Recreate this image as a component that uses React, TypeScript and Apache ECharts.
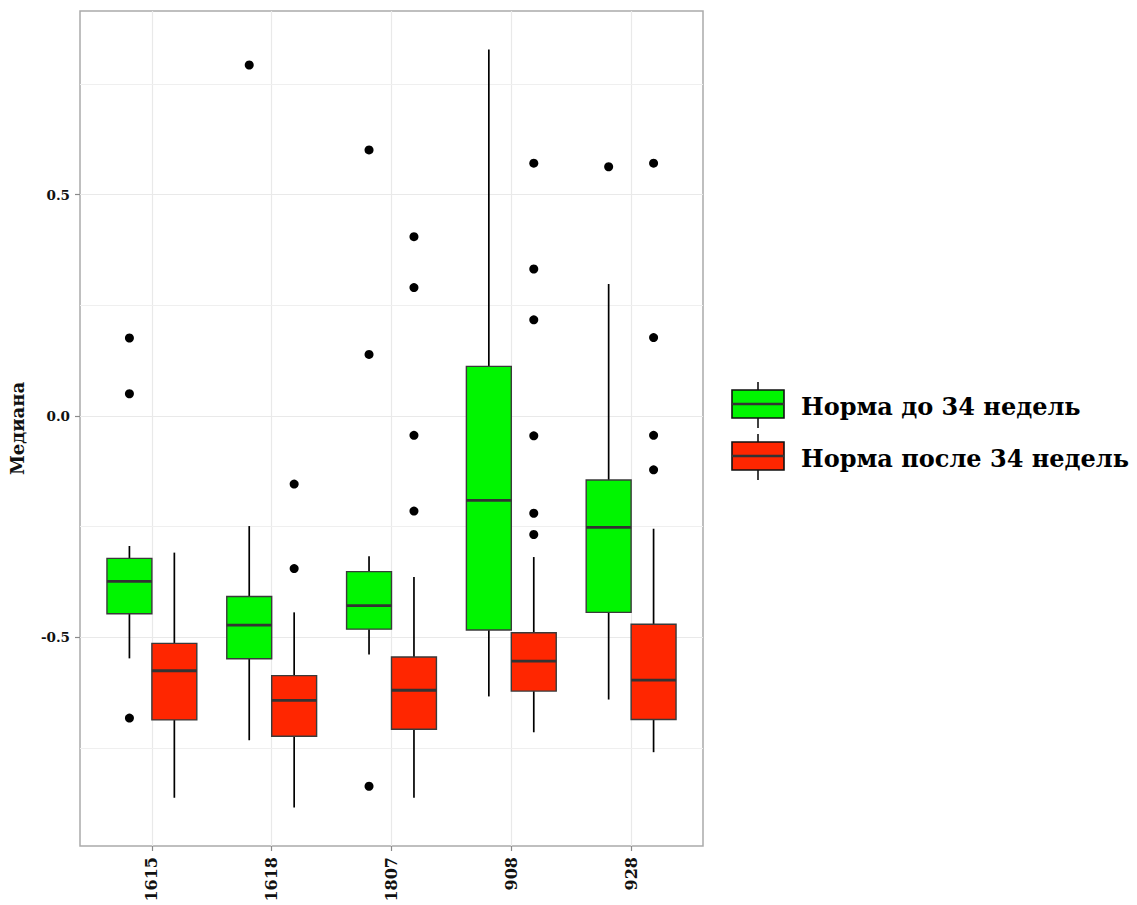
import React, { useEffect, useRef } from "react";
import * as echarts from "echarts";

// ---- data ----
const categories = ["1615", "1618", "1807", "908", "928"];
const seriesNames = ["Норма до 34 недель", "Норма после 34 недель"];

// [lower whisker, Q1, median, Q3, upper whisker] per category
const beforeStats = [
  [-0.548, -0.447, -0.374, -0.322, -0.294],
  [-0.733, -0.549, -0.473, -0.408, -0.249],
  [-0.539, -0.482, -0.429, -0.352, -0.317],
  [-0.634, -0.484, -0.191, 0.112, 0.828],
  [-0.641, -0.444, -0.252, -0.145, 0.298],
];
const afterStats = [
  [-0.863, -0.687, -0.576, -0.514, -0.309],
  [-0.885, -0.724, -0.643, -0.587, -0.444],
  [-0.863, -0.708, -0.62, -0.545, -0.364],
  [-0.715, -0.622, -0.554, -0.49, -0.319],
  [-0.76, -0.686, -0.597, -0.471, -0.255],
];
// outliers per category
const beforeOutliers = [
  [0.176, 0.05, -0.683],
  [0.793],
  [0.601, 0.139, -0.837],
  [],
  [0.563],
];
const afterOutliers = [
  [],
  [-0.154, -0.345],
  [0.405, 0.29, -0.044, -0.215],
  [0.571, 0.332, 0.217, -0.045, -0.22, -0.268],
  [0.571, 0.177, -0.044, -0.122],
];
const yMajorTicks = [-0.5, 0, 0.5];
const yMinorBreaks = [-0.75, -0.25, 0.25, 0.75];

// ---- style ----
const GREEN = "#00f500";
const RED = "#ff2600";
const FONT = "'DejaVu Serif', 'Liberation Serif', serif";
const DODGE = 0.1875; // half of dodge width
const HALF_BOX = 0.1875;

function boxRows(stats: number[][]) {
  return stats.map((s, i) => [i + 1, ...s]);
}

function outlierRows(outs: number[][], off: number) {
  const rows: number[][] = [];
  outs.forEach((list, i) => list.forEach((v) => rows.push([i + 1 + off, v])));
  return rows;
}

function makeBoxSeries(name: string, stats: number[][], off: number, color: string) {
  return {
    type: "custom",
    name,
    z: 3,
    data: boxRows(stats),
    encode: { x: 0, y: [1, 2, 3, 4, 5] },
    renderItem: (params: any, api: any) => {
      const x = api.value(0) + off;
      const lo = api.value(1);
      const q1 = api.value(2);
      const med = api.value(3);
      const q3 = api.value(4);
      const hi = api.value(5);
      const tl = api.coord([x - HALF_BOX, q3]);
      const br = api.coord([x + HALF_BOX, q1]);
      const mL = api.coord([x - HALF_BOX, med]);
      const mR = api.coord([x + HALF_BOX, med]);
      const pHi = api.coord([x, hi]);
      const pQ3 = api.coord([x, q3]);
      const pQ1 = api.coord([x, q1]);
      const pLo = api.coord([x, lo]);
      return {
        type: "group",
        children: [
          {
            type: "line",
            shape: { x1: pHi[0], y1: pHi[1], x2: pQ3[0], y2: pQ3[1] },
            style: { stroke: "#000", lineWidth: 1.7 },
          },
          {
            type: "line",
            shape: { x1: pQ1[0], y1: pQ1[1], x2: pLo[0], y2: pLo[1] },
            style: { stroke: "#000", lineWidth: 1.7 },
          },
          {
            type: "rect",
            shape: { x: tl[0], y: tl[1], width: br[0] - tl[0], height: br[1] - tl[1] },
            style: { fill: color, stroke: "#3a3a3a", lineWidth: 1.4 },
          },
          {
            type: "line",
            shape: { x1: mL[0], y1: mL[1], x2: mR[0], y2: mR[1] },
            style: { stroke: "#333", lineWidth: 2.8 },
          },
        ],
      };
    },
  };
}

function makeOutlierSeries(name: string, outs: number[][], off: number) {
  return {
    type: "scatter",
    name,
    z: 4,
    symbol: "circle",
    symbolSize: 9,
    itemStyle: { color: "#000", opacity: 1 },
    data: outlierRows(outs, off),
  };
}

export default function App() {
  const ref = useRef<HTMLDivElement>(null);

  useEffect(() => {
    if (!ref.current) return;
    const chart = echarts.init(ref.current, undefined, { renderer: "svg" });

    const legendX = 732;
    const legendTop = [390, 442];
    const boxW = 52;
    const boxH = 28;
    const legendColors = [GREEN, RED];
    const legendGraphics: any[] = [];
    seriesNames.forEach((n, i) => {
      const y = legendTop[i];
      const cx = legendX + boxW / 2;
      legendGraphics.push(
        { type: "line", shape: { x1: cx, y1: y - 8, x2: cx, y2: y }, style: { stroke: "#111", lineWidth: 1.6 } },
        { type: "line", shape: { x1: cx, y1: y + boxH, x2: cx, y2: y + boxH + 10 }, style: { stroke: "#111", lineWidth: 1.6 } },
        {
          type: "rect",
          shape: { x: legendX, y, width: boxW, height: boxH },
          style: { fill: legendColors[i], stroke: "#111", lineWidth: 1.6 },
        },
        {
          type: "line",
          shape: { x1: legendX, y1: y + boxH / 2, x2: legendX + boxW, y2: y + boxH / 2 },
          style: { stroke: "#333", lineWidth: 2.6 },
        },
        {
          type: "text",
          x: 801,
          y: y + boxH / 2 + 2,
          style: {
            text: n,
            font: `bold 24px ${FONT}`,
            fill: "#000",
            textVerticalAlign: "middle",
            textAlign: "left",
          },
        }
      );
    });

    const option: any = {
      animation: false,
      backgroundColor: "#ffffff",
      grid: {
        left: 79,
        top: 11,
        right: 434,
        bottom: 59,
        show: true,
        borderColor: "#aaaaaa",
        borderWidth: 1.5,
        backgroundColor: "transparent",
      },
      xAxis: {
        type: "value",
        min: 0.4,
        max: 5.6,
        minInterval: 1,
        maxInterval: 1,
        axisLine: { show: false, onZero: false },
        axisTick: { show: true, length: 5, lineStyle: { color: "#8a8a8a", width: 1.2 }, customValues: [1, 2, 3, 4, 5] },
        axisLabel: {
          customValues: [1, 2, 3, 4, 5],
          rotate: 90,
          margin: 11,
          fontFamily: FONT,
          fontWeight: "bold",
          fontSize: 16,
          color: "#111",
          formatter: (v: number) => {
            const i = Math.round(v) - 1;
            return Math.abs(v - Math.round(v)) < 1e-6 && categories[i] ? categories[i] : "";
          },
        },
        splitLine: { show: true, lineStyle: { color: "#e9e9e9", width: 1.2 } },
      },
      yAxis: {
        type: "value",
        min: -0.972,
        max: 0.915,
        minInterval: 0.5,
        maxInterval: 0.5,
        name: "Медиана",
        nameLocation: "middle",
        nameRotate: 90,
        nameGap: 54,
        nameTextStyle: { fontFamily: FONT, fontWeight: "bold", fontSize: 18, color: "#111" },
        axisLine: { show: false, onZero: false },
        axisTick: { show: true, length: 5, lineStyle: { color: "#8a8a8a", width: 1.2 }, customValues: yMajorTicks },
        axisLabel: {
          customValues: yMajorTicks,
          margin: 10,
          fontFamily: FONT,
          fontWeight: "bold",
          fontSize: 13.5,
          color: "#111",
          formatter: (v: number) => v.toFixed(1),
        },
        splitLine: { show: true, lineStyle: { color: "#e9e9e9", width: 1.2 } },
      },
      series: [
        {
          type: "scatter",
          name: "minor-grid",
          data: [],
          z: 1,
          silent: true,
          markLine: {
            z: 1,
            silent: true,
            symbol: "none",
            label: { show: false },
            lineStyle: { color: "#efefef", width: 1, type: "solid" },
            data: yMinorBreaks.map((v) => ({ yAxis: v })),
          },
        },
        makeBoxSeries(seriesNames[0], beforeStats, -DODGE, GREEN),
        makeBoxSeries(seriesNames[1], afterStats, DODGE, RED),
        makeOutlierSeries(seriesNames[0] + " (выбросы)", beforeOutliers, -DODGE),
        makeOutlierSeries(seriesNames[1] + " (выбросы)", afterOutliers, DODGE),
      ],
      graphic: legendGraphics,
    };

    chart.setOption(option);
    return () => chart.dispose();
  }, []);

  return (
    <div
      ref={ref}
      style={{ position: "fixed", left: 0, top: 0, width: 1137, height: 905, background: "#fff" }}
    />
  );
}
